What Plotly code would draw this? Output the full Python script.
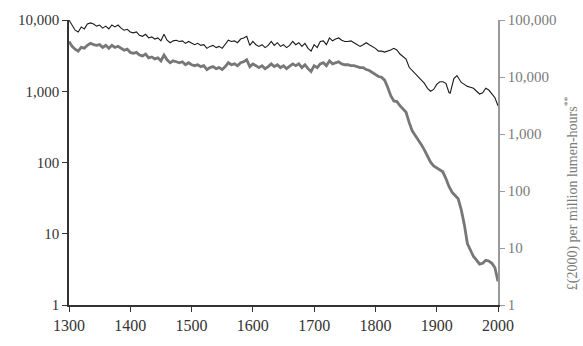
import plotly.graph_objects as go

# ---- data ----
years_black = list(range(1300, 1920, 5)) + [1920, 1922, 1928, 1933, 1940, 1945, 1950, 1955, 1960,
                                             1965, 1970, 1975, 1980, 1985, 1990, 1995, 2000]
black_vals = [
    10000, 8500, 7200, 6800, 8000, 7500, 8800, 9100, 8800, 8200,   # 1300-1345
    8500, 7700, 8200, 7500, 8500, 8000, 8500, 7700, 7200, 7400,    # 1350-1395
    6800, 6600, 6800, 6100, 5900, 6300, 5600, 5800, 5400, 5600,    # 1400-1445
    5100, 6300, 5200, 4800, 5100, 5200, 5000, 5100, 4700, 5000,    # 1450-1495
    4700, 4500, 4700, 4400, 4500, 4000, 4260, 4400, 4100, 4260,    # 1500-1545
    4000, 4500, 5200, 5000, 5100, 4800, 5400, 5600, 5900, 4400,    # 1550-1595
    5000, 4500, 4260, 4500, 4100, 4400, 5000, 4400, 4800, 4260,    # 1600-1645
    4500, 4100, 4400, 5000, 4500, 4800, 4260, 4700, 4000, 3660,    # 1650-1695
    4500, 4100, 5000, 5100, 4500, 5600, 5100, 5400, 5600, 5200,    # 1700-1745
    5000, 5000, 5100, 4800, 4500, 4260, 4500, 4800, 4500, 4260,    # 1750-1795
    4000, 3660, 3660, 3550, 3660, 3800, 4000, 3800, 3330, 3100,    # 1800-1845
    2820, 2170, 1950, 1770, 1600, 1450, 1290, 1100, 1000, 1060,    # 1850-1895
    1250, 1360, 1360, 1290,                                        # 1900-1915
    960, 940, 1510, 1660, 1330, 1250, 1170, 1140, 1100,
    1000, 915, 950, 1100, 1040, 915, 810, 625,
]

years_gray = list(range(1300, 2005, 5))
gray_vals = [
    42000, 34600, 30800, 28400, 33000, 32000, 36000, 39000, 37000, 36000,   # 1300-1345
    37000, 33000, 36000, 32000, 36000, 33000, 34600, 32000, 29500, 30800,   # 1350-1395
    27000, 26000, 27000, 24300, 23400, 25300, 21700, 22500, 20800, 21700,   # 1400-1445
    19200, 24300, 20000, 17800, 19200, 18500, 17800, 18500, 16400, 17800,   # 1450-1495
    16400, 15800, 16400, 15200, 15800, 13500, 14600, 15200, 14000, 14600,   # 1500-1545
    13500, 15200, 17800, 16400, 17000, 15800, 17800, 18500, 20000, 15200,   # 1550-1595
    17000, 15800, 14600, 15800, 14000, 15200, 17000, 15200, 16400, 14600,   # 1600-1645
    15800, 14000, 15200, 17000, 15800, 17000, 14600, 16400, 14000, 12500,   # 1650-1695
    15800, 14600, 17000, 17800, 15800, 19200, 17000, 17800, 18500, 17000,   # 1700-1745
    16400, 16400, 15800, 15800, 15200, 14600, 14600, 13500, 13000, 12000,   # 1750-1795
    11000, 10200, 9900, 8800, 6600, 4700, 3800, 3700, 3150, 2700,           # 1800-1845
    2400, 1600, 1140, 940, 800, 650, 520, 420, 320, 275,                    # 1850-1895
    255, 235, 217, 165, 120, 95, 82, 73, 47, 26,                            # 1900-1945
    12, 9, 7.1, 6.1, 5.2, 5.4, 6.1, 5.9, 5.4, 4.5, 2.6,                     # 1950-2000
]

x_ticks = [1300, 1400, 1500, 1600, 1700, 1800, 1900, 2000]
left_tickvals = [1, 10, 100, 1000, 10000]
left_ticktext = ["1", "10", "100", "1,000", "10,000"]
right_tickvals = [1, 10, 100, 1000, 10000, 100000]
right_ticktext = ["1", "10", "100", "1,000", "10,000", "100,000"]
right_title = "£(2000) per million lumen-hours<sup>**</sup>"

SERIF = "Liberation Serif"
DARK = "#333333"
GRAY = "#7a7a7a"

fig = go.Figure()
fig.add_trace(go.Scatter(x=years_gray, y=gray_vals, mode="lines", yaxis="y2",
                         line=dict(color="#777777", width=2.8), showlegend=False))
fig.add_trace(go.Scatter(x=years_black, y=black_vals, mode="lines", yaxis="y",
                         line=dict(color="#1a1a1a", width=1.1), showlegend=False))

fig.update_layout(
    width=583, height=346,
    margin=dict(l=69, r=85, t=14, b=38),
    paper_bgcolor="white", plot_bgcolor="white",
    font=dict(family=SERIF, size=15, color=DARK),
    xaxis=dict(range=[1300, 2000], tickvals=x_ticks, showgrid=False, zeroline=False,
               showline=True, linecolor=DARK, linewidth=1.5, ticks="outside", ticklen=5,
               tickcolor=DARK, tickfont=dict(family=SERIF, size=16, color=DARK)),
    yaxis=dict(type="log", range=[0, 4], tickvals=left_tickvals, ticktext=left_ticktext,
               showgrid=False, zeroline=False, showline=True, linecolor=DARK, linewidth=1.5,
               ticks="outside", ticklen=5, tickcolor=DARK,
               tickfont=dict(family=SERIF, size=15, color=DARK)),
    yaxis2=dict(type="log", range=[0, 5], overlaying="y", side="right",
                tickvals=right_tickvals, ticktext=right_ticktext, showgrid=False,
                zeroline=False, showline=True, linecolor="#999999", linewidth=1.5,
                ticks="outside", ticklen=5, tickcolor="#999999",
                tickfont=dict(family=SERIF, size=15, color=GRAY)),
    annotations=[dict(text=right_title, xref="paper", yref="paper", x=1.17, y=0.392,
                      xanchor="center", yanchor="middle", textangle=-90, showarrow=False,
                      font=dict(family=SERIF, size=14, color=GRAY))],
)

fig.write_html("out.html")
